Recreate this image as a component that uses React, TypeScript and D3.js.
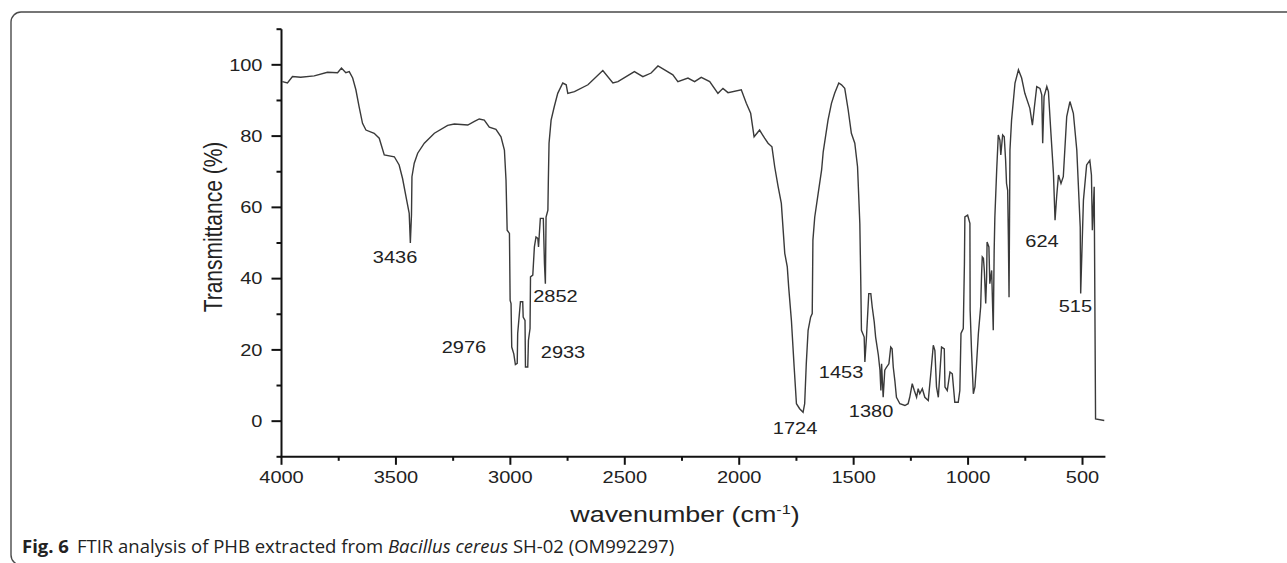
import React from "react";
import * as d3 from "d3";

const wavenumbers = [3996,3974,3952,3916,3857,3799,3755,3738,3719,3704,3689,3675,3661,3646,3631,3595,3573,3551,3507,3486,3471,3456,3442,3437,3432,3430,3420,3405,3376,3332,3274,3245,3186,3157,3136,3114,3092,3063,3041,3026,3019,3014,3004,3001,2997,2994,2985,2978,2970,2968,2956,2946,2944,2936,2934,2924,2921,2914,2912,2902,2895,2888,2880,2877,2869,2856,2851,2847,2844,2836,2834,2831,2822,2808,2793,2771,2756,2749,2720,2661,2596,2552,2530,2458,2421,2385,2355,2326,2290,2268,2224,2195,2166,2129,2093,2071,2049,1991,1969,1950,1935,1911,1889,1874,1857,1845,1830,1816,1808,1801,1790,1784,1772,1760,1750,1736,1721,1714,1707,1699,1688,1681,1678,1670,1655,1640,1633,1612,1597,1583,1565,1553,1539,1524,1510,1495,1483,1473,1469,1466,1454,1451,1444,1434,1425,1419,1410,1404,1392,1385,1381,1378,1371,1364,1356,1346,1338,1332,1327,1320,1313,1298,1276,1262,1255,1244,1235,1225,1218,1211,1200,1189,1174,1163,1152,1145,1138,1130,1116,1104,1101,1091,1079,1069,1058,1043,1036,1031,1021,1016,1014,1002,992,991,985,977,970,963,955,945,941,938,933,929,923,919,917,909,905,897,890,886,883,875,868,861,857,849,842,836,832,827,824,821,817,810,795,780,766,752,730,719,710,700,686,678,674,668,656,649,638,627,620,613,605,594,584,569,555,540,525,510,508,496,482,468,461,457,449,443,405];

const transmittance = [95.3,94.9,96.7,96.5,96.9,97.9,97.8,99.1,97.8,98.1,96.3,93.0,88.3,83.6,81.7,80.8,79.4,74.7,74.2,71.9,68.1,63,58.3,50.0,58,68.6,72.4,75.2,78,80.8,83.0,83.4,83.1,84.1,84.8,84.5,82.5,81.9,79.8,76.1,67.7,53.6,52.7,33.9,33,20.8,18.9,15.9,16.2,24.6,33.5,33.5,29.2,28.3,15.2,15.2,22.7,26,40.5,41,48.9,51.7,51.3,48.9,56.9,56.9,44.2,38.6,57.3,59.2,67.7,78,84.5,88.3,92,94.9,94.4,92.0,92.5,94.4,98.4,94.9,95.3,98.1,96.7,97.7,99.7,98.6,97.2,95.3,96.3,95.3,96.5,95.3,92,93.4,92.2,93.0,89.2,86.4,79.8,81.7,79.4,78,77,71.4,65.8,61.1,53.6,47.1,43.3,37.7,28.3,15.2,4.9,3.5,2.5,4.9,16.1,25.5,29.2,30.2,50.8,57.3,63.9,70.5,75.6,84.5,89.2,92,94.9,94.4,93.4,87.4,80.8,78,71.4,55.5,39.6,25.5,23.6,16.6,23.6,35.8,35.8,32.1,27.8,23.6,18.5,14.3,8.6,16.1,6.7,14.3,15.2,16.1,20.8,20.3,15.2,11.4,6.7,4.9,4.4,4.9,6.7,10.5,8.6,6.7,9.1,7.7,9.1,6.7,5.8,13.3,21.3,19.8,9.6,6.7,20.8,20.3,9.6,8.6,13.8,13.3,5.3,5.3,8.6,24.6,26,44.2,57.3,57.8,55.5,31.1,19.8,7.7,9.6,16.1,24.6,32.1,41.4,46.1,45.7,42.3,33,40.5,50.3,48.9,38.6,42.3,25.5,48,57.3,70.5,80.3,78.9,74.7,80.3,79.8,73.2,66.7,64.8,51.7,34.8,76.1,84.5,94.9,98.6,96.3,92,87.8,83.1,88.3,93.9,93.4,91.6,78,91.1,93.9,92.5,80.8,69.5,56.4,63,69.1,66.7,68.6,85.5,89.7,86.4,76.1,54.5,35.8,62,71.9,73.2,69.1,53.6,65.8,0.6,0.2];

const xTicks = [4000, 3500, 3000, 2500, 2000, 1500, 1000, 500];
const xMinorTicks = [3750, 3250, 2750, 2250, 1750, 1250, 750];
const yTicks = [0, 20, 40, 60, 80, 100];
const yMinorTicks = [-10, 10, 30, 50, 70, 90, 110];

const peakLabels = ["3436", "2976", "2852", "2933", "1724", "1453", "1380", "624", "515"];
const peakLabelW = [3504, 3203, 2803, 2770, 1756, 1555, 1424, 677, 531];
const peakLabelT = [44.3, 19.0, 33.5, 17.6, -3.7, 12.0, 1.3, 48.8, 30.6];

const SX = 1.25;
const chartFont = "'Liberation Sans', Arial, sans-serif";

export default function App() {
  const x = d3.scaleLinear().domain([4000, 400]).range([281.5, 1105.4]);
  const y = d3.scaleLinear().domain([-10, 110]).range([456.8, 29.2]);
  const pts = wavenumbers.map((w, i) => [w, transmittance[i]] as [number, number]);
  const line = d3.line<[number, number]>().x((d) => x(d[0])).y((d) => y(d[1]));
  const axX = x(4000);
  const axY = y(-10);

  return (
    <div style={{ position: "absolute", left: 0, top: 0 }}>
      <svg width={1287} height={563} style={{ display: "block", background: "#fff" }}>
        <rect x={11} y={12} width={1320} height={553} rx={10} ry={10} fill="none" stroke="#4a4a4a" strokeWidth={1.4} />

        <path d={line(pts) || ""} fill="none" stroke="#3a3a3a" strokeWidth={1.4} strokeLinejoin="miter" />

        <line x1={axX} x2={axX} y1={y(110)} y2={axY} stroke="#111" strokeWidth={2} />
        <line x1={axX - 1} x2={x(400)} y1={axY} y2={axY} stroke="#111" strokeWidth={2} />

        {yTicks.map((t) => (
          <g key={"yt" + t}>
            <line x1={axX - 10} x2={axX} y1={y(t)} y2={y(t)} stroke="#111" strokeWidth={2} />
            <text
              transform={`translate(${axX - 19},${y(t) + 5.8}) scale(${SX},1)`}
              textAnchor="end"
              fontFamily={chartFont}
              fontSize={16}
              fill="#222"
            >
              {t}
            </text>
          </g>
        ))}
        {yMinorTicks.map((t) => (
          <line key={"ym" + t} x1={axX - 5} x2={axX} y1={y(t)} y2={y(t)} stroke="#111" strokeWidth={2} />
        ))}
        {xTicks.map((t) => (
          <g key={"xt" + t}>
            <line x1={x(t)} x2={x(t)} y1={axY} y2={axY + 8} stroke="#111" strokeWidth={2} />
            <text
              transform={`translate(${x(t)},${axY + 26.5}) scale(${SX},1)`}
              textAnchor="middle"
              fontFamily={chartFont}
              fontSize={16}
              fill="#222"
            >
              {t}
            </text>
          </g>
        ))}
        {xMinorTicks.map((t) => (
          <line key={"xm" + t} x1={x(t)} x2={x(t)} y1={axY} y2={axY + 4} stroke="#111" strokeWidth={2} />
        ))}

        <text
          transform={`translate(${x(2250) + 3},522) scale(${SX},1)`}
          textAnchor="middle"
          fontFamily={chartFont}
          fontSize={21.5}
          fill="#222"
        >
          wavenumber (cm
          <tspan fontSize={13} dy={-8}>-1</tspan>
          <tspan dy={8}>)</tspan>
        </text>
        <text
          transform={`translate(222,${y(50) - 16}) rotate(-90) scale(1,${SX})`}
          textAnchor="middle"
          fontFamily={chartFont}
          fontSize={21}
          fill="#222"
        >
          Transmittance (%)
        </text>

        {peakLabels.map((s, i) => (
          <text
            key={s}
            transform={`translate(${x(peakLabelW[i])},${y(peakLabelT[i])}) scale(${SX},1)`}
            textAnchor="middle"
            fontFamily={chartFont}
            fontSize={16}
            fill="#222"
          >
            {s}
          </text>
        ))}

        <text x={22} y={553} fontFamily="'Open Sans', 'Noto Sans', sans-serif" fontSize={18.5} fill="#222">
          <tspan fontWeight="bold">Fig. 6</tspan>
          <tspan dx={8}>FTIR analysis of PHB extracted from </tspan>
          <tspan fontStyle="italic">Bacillus cereus</tspan>
          <tspan> SH-02 (OM992297)</tspan>
        </text>
      </svg>
    </div>
  );
}
